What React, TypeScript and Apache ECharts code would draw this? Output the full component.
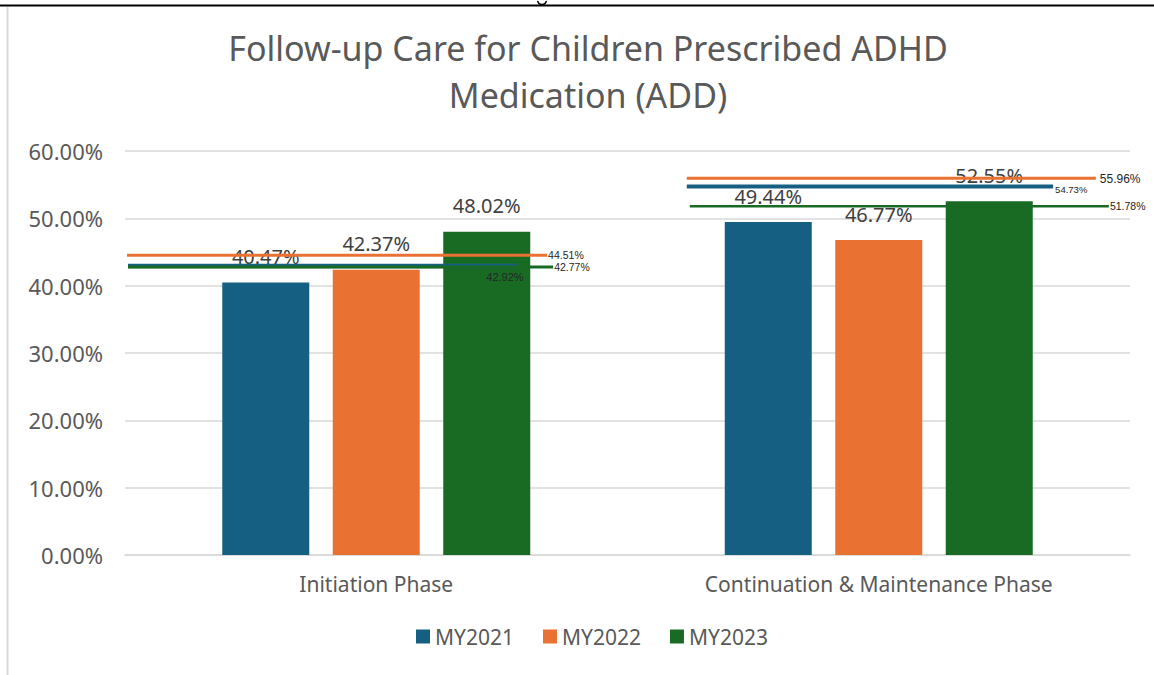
import React, { useEffect, useRef } from "react";
import * as echarts from "echarts";

// Measure phases and reporting years
const categories = ["Initiation Phase", "Continuation & Maintenance Phase"];
const years = ["MY2021", "MY2022", "MY2023"];

// Follow-up care rates (%) per phase
const rates2021 = [40.47, 49.44];
const rates2022 = [42.37, 46.77];
const rates2023 = [48.02, 52.55];

// Reference (benchmark) rates (%) per phase, shown as horizontal lines
const benchmark2021 = [42.92, 54.73];
const benchmark2022 = [44.51, 55.96];
const benchmark2023 = [42.77, 51.78];

// Value axis ticks (%)
const yMin = 0;
const yMax = 60;
const yInterval = 10;

const colors = ["#156082", "#E97132", "#196B24"];
const FONT = "'Noto Sans', sans-serif";
const LABEL_FONT = "'Liberation Sans', Arial, sans-serif";

// Horizontal extent of each benchmark line, in category-band units
// (band i spans i..i+1 on the hidden value x axis)
const lineSpans: Record<string, [number, number][]> = {
  MY2021: [
    [0.006, 0.782],
    [1.118, 1.847],
  ],
  MY2022: [
    [0.004, 0.84],
    [1.118, 1.932],
  ],
  MY2023: [
    [0.006, 0.852],
    [1.124, 1.958],
  ],
};
const lineWidths: Record<string, number[]> = {
  MY2021: [4.5, 4],
  MY2022: [3, 3],
  MY2023: [3, 2.5],
};

const pct = (v: number) => `${v.toFixed(2)}%`;

export default function App() {
  const ref = useRef<HTMLDivElement>(null);

  useEffect(() => {
    if (!ref.current) return;
    const chart = echarts.init(ref.current, undefined, { renderer: "svg" });

    const rateSets = [rates2021, rates2022, rates2023];
    const benchSets = [benchmark2021, benchmark2022, benchmark2023];

    const barSeries = years.map((y, i) => ({
      name: y,
      type: "bar",
      xAxisIndex: 0,
      yAxisIndex: 0,
      data: rateSets[i],
      barWidth: 87,
      barGap: "27%",
      itemStyle: { color: colors[i] },
      z: 2,
      label: {
        show: true,
        position: "top",
        distance: 16,
        formatter: (p: any) => pct(p.value),
        fontFamily: FONT,
        fontSize: 20,
        color: "#404040",
      },
    }));

    const labelStyles: Record<string, any[]> = {
      MY2021: [
        { position: "bottom", distance: 5, offset: [-13, 0], fontSize: 11 },
        { position: "right", distance: 2, offset: [0, 3], fontSize: 9.5 },
      ],
      MY2022: [
        { position: "right", distance: 1, fontSize: 10.5 },
        { position: "right", distance: 4, offset: [0, 1], fontSize: 12 },
      ],
      MY2023: [
        { position: "right", distance: 1, fontSize: 10.5 },
        { position: "right", distance: 1, fontSize: 10.5 },
      ],
    };

    const lineSeries: any[] = [];
    years.forEach((y, i) => {
      categories.forEach((_, c) => {
        const v = benchSets[i][c];
        const [x0, x1] = lineSpans[y][c];
        lineSeries.push({
          name: `${y} benchmark ${c}`,
          type: "line",
          xAxisIndex: 1,
          yAxisIndex: 0,
          z: 5,
          symbol: "circle",
          symbolSize: 0.01,
          showSymbol: true,
          lineStyle: { color: colors[i], width: lineWidths[y][c] },
          itemStyle: { color: colors[i] },
          data: [
            { value: [x0, v] },
            {
              value: [x1, v],
              label: {
                show: true,
                formatter: (p: any) => pct(p.value[1]),
                fontFamily: LABEL_FONT,
                color: "#262626",
                ...labelStyles[y][c],
              },
            },
          ],
        });
      });
    });

    chart.setOption({
      animation: false,
      backgroundColor: "#ffffff",
      title: {
        text: "Follow-up Care for Children Prescribed ADHD\nMedication (ADD)",
        left: 583,
        top: 19,
        textAlign: "center",
        textStyle: {
          fontFamily: FONT,
          fontSize: 34,
          fontWeight: "normal",
          color: "#595959",
          lineHeight: 47,
        },
      },
      legend: {
        data: years,
        bottom: 23,
        left: 411,
        itemWidth: 14,
        itemHeight: 14,
        itemGap: 29,
        icon: "rect",
        textStyle: { fontFamily: FONT, fontSize: 21, color: "#595959" },
      },
      grid: { left: 125, right: 24, top: 151, bottom: 120, containLabel: false },
      xAxis: [
        {
          type: "category",
          data: categories,
          axisTick: { show: false },
          axisLine: { lineStyle: { color: "#D9D9D9", width: 1.5 } },
          axisLabel: {
            fontFamily: FONT,
            fontSize: 21,
            color: "#595959",
            margin: 18,
          },
        },
        {
          type: "value",
          min: 0,
          max: 2,
          show: false,
        },
      ],
      yAxis: {
        type: "value",
        min: yMin,
        max: yMax,
        interval: yInterval,
        axisLine: { show: false },
        axisTick: { show: false },
        splitLine: { lineStyle: { color: "#D9D9D9", width: 1.5 } },
        axisLabel: {
          formatter: (v: number) => pct(v),
          fontFamily: FONT,
          fontSize: 22,
          color: "#595959",
          margin: 22,
        },
      },
      graphic: [
        {
          type: "line",
          shape: { x1: 0, y1: 5.5, x2: 1154, y2: 5.5 },
          style: { stroke: "#000000", lineWidth: 2 },
        },
        {
          type: "arc",
          shape: { cx: 542, cy: 0, r: 4.5, startAngle: 0.2, endAngle: Math.PI - 0.2 },
          style: { stroke: "#000000", lineWidth: 1.5, fill: "none" },
        },
        {
          type: "line",
          shape: { x1: 7.5, y1: 7, x2: 7.5, y2: 675 },
          style: { stroke: "#D9D9D9", lineWidth: 2 },
        },
      ],
      series: [...barSeries, ...lineSeries],
    });

    return () => chart.dispose();
  }, []);

  return (
    <div
      ref={ref}
      style={{ position: "absolute", left: 0, top: 0, width: 1154, height: 675 }}
    />
  );
}
